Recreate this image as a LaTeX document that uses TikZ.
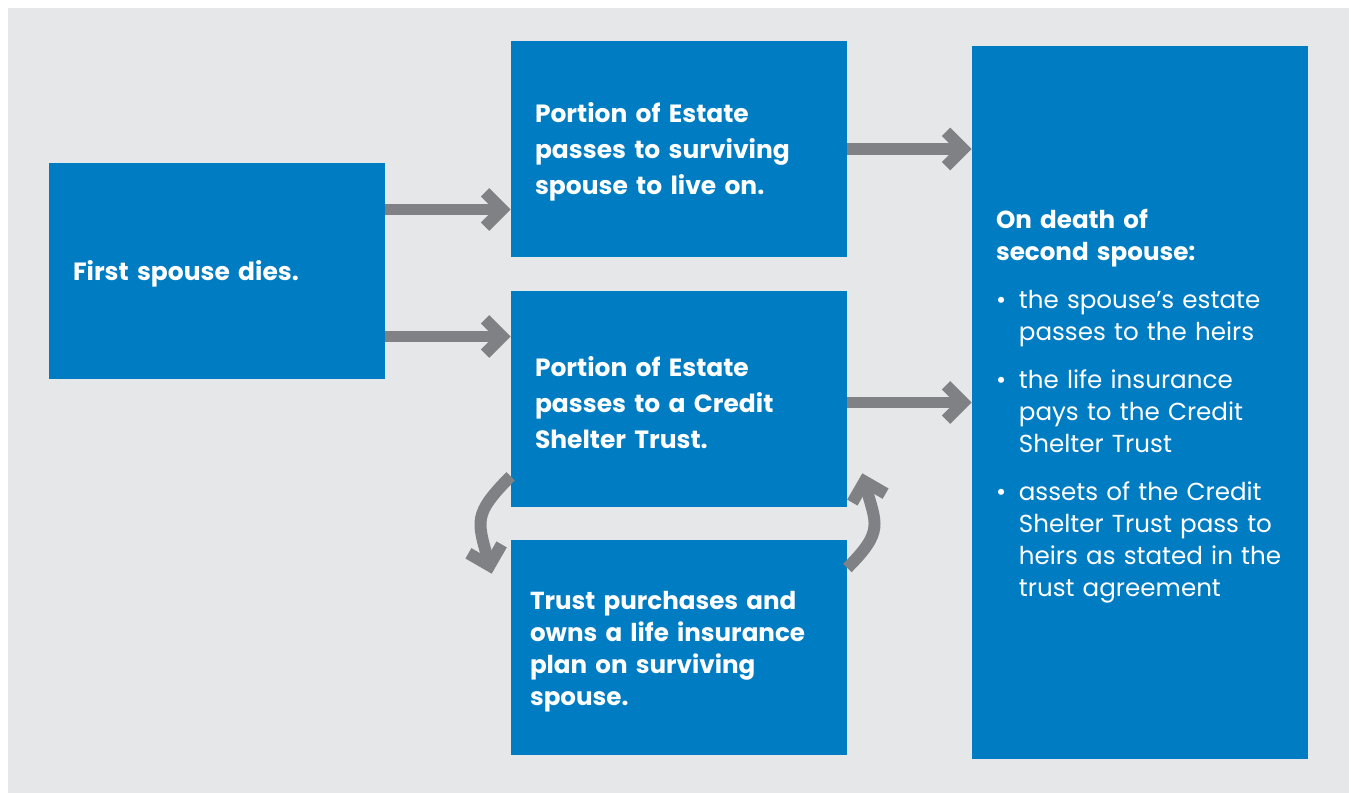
\documentclass[tikz,border=0pt]{standalone}
\usepackage{fontspec}
\setmainfont{Poppins}
\usepackage{tikz}
\usetikzlibrary{arrows.meta, positioning, calc}
\definecolor{boxblue}{RGB}{0, 125, 194}
\definecolor{arrowgray}{RGB}{128, 129, 132}
\definecolor{panelgray}{RGB}{230, 231, 233}
\newcommand{\bulletmark}{\makebox[13pt][l]{\textbullet}}
\newcommand{\bulletpad}{\hspace*{13pt}}

\begin{document}
\begin{tikzpicture}[x=0.02cm, y=0.02cm,
    stepbox/.style={fill=boxblue, text=white, inner ysep=0pt, inner xsep=0.48cm,
        text width=5.76cm, minimum height=4.32cm, align=left,
        font=\bfseries\fontsize{14.2}{20.5}\selectfont,
        execute at begin node={\rule{0pt}{15pt}}},
    flow/.style={draw=arrowgray, line width=6.8pt,
        -{Straight Barb[length=9.8pt, width=19.6pt, sharp]}}]

    % Background panel
    \fill[panelgray] (8,0) rectangle (1349,785);
    \useasboundingbox (0,0) rectangle (1351,793);

    % Boxes
    \node[stepbox] (A) at (217,522.25) {First spouse dies.};
    \node[stepbox] (B) at (679,644) {Portion of Estate\\ passes to surviving\\ spouse to live on.};
    \node[stepbox] (C) at (679,394) {Portion of Estate\\ passes to a Credit\\ Shelter Trust.};
    \node[stepbox, inner xsep=0.38cm, text width=5.96cm, minimum height=4.3cm,
        font=\bfseries\fontsize{14}{18.2}\selectfont] (D) at (679,145.5)
        {Trust purchases and\\ owns a life insurance\\ plan on surviving\\ spouse.};
    \node[stepbox, minimum height=14.26cm, font=\fontsize{14}{18.2}\selectfont] (E) at (1140,390.5)
        {\textbf{On death of}\\
         \textbf{second spouse:}\\[9.6pt]
         \bulletmark the spouse's estate\\
         \bulletpad passes to the heirs\\[9.1pt]
         \bulletmark the life insurance\\
         \bulletpad pays to the Credit\\
         \bulletpad Shelter Trust\\[9.1pt]
         \bulletmark assets of the Credit\\
         \bulletpad Shelter Trust pass to\\
         \bulletpad heirs as stated in the\\
         \bulletpad trust agreement};

    % Helper rows for the two arrows out of the first box
    \coordinate (row1) at (0,583.5);
    \coordinate (row2) at (0,456.5);

    % Straight arrows
    \draw[flow] (A.east |- row1) -- (B.west |- row1);
    \draw[flow] (A.east |- row2) -- (B.west |- row2);
    \draw[flow] (B.east) -- (E.west |- B.east);
    \draw[flow] (C.east |- E.west) -- (E.west);

    % Loop between trust and insurance
    \draw[flow] ($(C.south west)+(0,31)$) to[out=225, in=105, looseness=1.4] ($(D.north west)+(-19,-34)$);
    \draw[flow] ($(D.east)+(0,79.5)$) to[out=45, in=-75, looseness=1.4] ($(C.south east)+(15,34)$);

\end{tikzpicture}
\end{document}
